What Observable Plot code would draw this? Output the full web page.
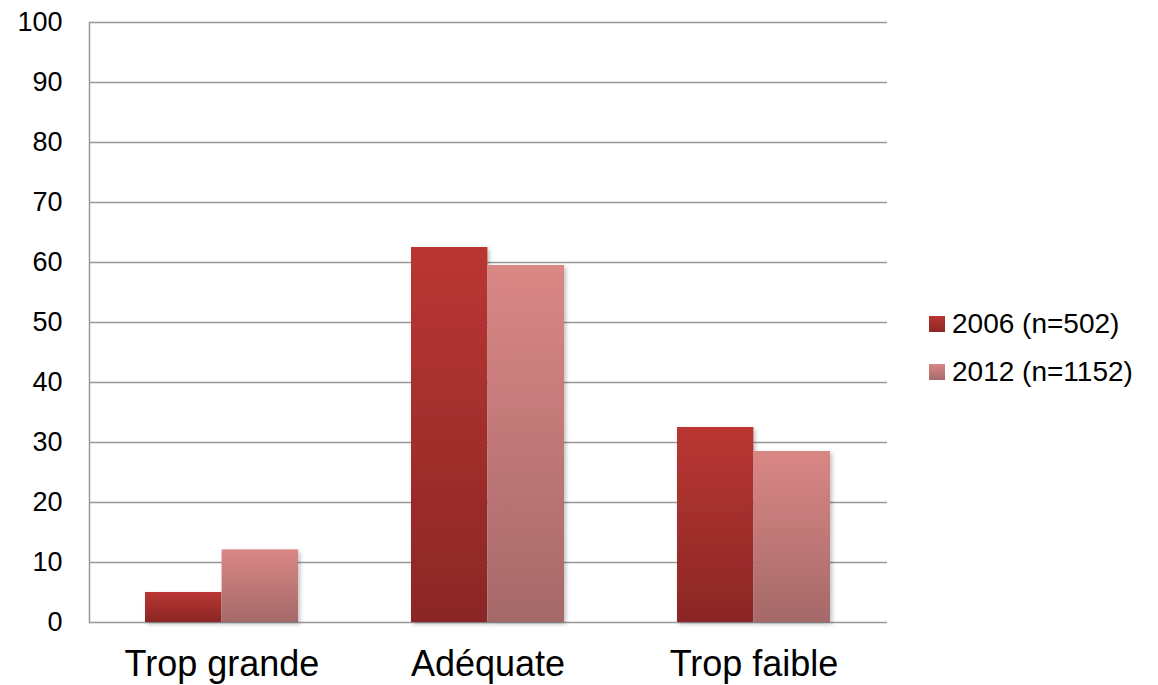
<!DOCTYPE html>
<html>
<head>
<meta charset="utf-8">
<script src="https://cdn.jsdelivr.net/npm/d3@7"></script>
<script src="https://cdn.jsdelivr.net/npm/@observablehq/plot@0.6"></script>
<style>
  body { margin: 0; background: #fff; font-family: "Liberation Sans", Arial, sans-serif; }
  #wrap { position: relative; width: 1158px; height: 685px; overflow: hidden; }
  #legend { position: absolute; left: 929px; top: 305px; font-size: 28px; color: #000; }
  .item { display: flex; align-items: center; height: 38px; margin-bottom: 10px; }
  .sw { width: 16px; height: 16px; margin-right: 7px; }
</style>
</head>
<body>
<div id="wrap"><div id="legend"></div></div>
<script>
const categories = ["Trop grande", "Adéquate", "Trop faible"];
const series = ["2006 (n=502)", "2012 (n=1152)"];
const values2006 = [5, 62.5, 32.5];
const values2012 = [12.1, 59.5, 28.5];
const yTicks = [0, 10, 20, 30, 40, 50, 60, 70, 80, 90, 100];

const rows2006 = categories.map((c, i) => ({cat: c, series: series[0], value: values2006[i]}));
const rows2012 = categories.map((c, i) => ({cat: c, series: series[1], value: values2012[i]}));

const W = 1158, H = 685, ML = 89, MR = 271, MT = 22, MB = 63;
const padInner = 0.424;
const step = (W - ML - MR) / categories.length;
const half = step * (1 - padInner) / 2;

const svg = Plot.plot({
  width: W,
  height: H,
  marginLeft: ML,
  marginRight: MR,
  marginTop: MT,
  marginBottom: MB,
  style: {fontFamily: "'Liberation Sans', Arial, sans-serif", color: "#000", background: "#fff", overflow: "visible"},
  x: {domain: categories, paddingInner: padInner, paddingOuter: padInner / 2, axis: null},
  y: {domain: [0, 100], axis: null},
  marks: [
    Plot.gridY(yTicks, {stroke: "#999", strokeOpacity: 1, strokeWidth: 1.5}),
    Plot.frame({anchor: "left", stroke: "#999", strokeWidth: 1.5}),
    Plot.barY(rows2006, {x: "cat", y: "value", fill: "url(#g2006)", insetRight: half}),
    Plot.barY(rows2012, {x: "cat", y: "value", fill: "url(#g2012)", insetLeft: half}),
    Plot.axisY(yTicks, {tickSize: 0, tickPadding: 27, fontSize: 27, label: null, tickFormat: d => String(d)}),
    Plot.axisX({tickSize: 0, tickPadding: 28, fontSize: 36, label: null})
  ]
});

const defs = d3.select(svg).insert("defs", ":first-child");
function grad(id, top, bottom) {
  const g = defs.append("linearGradient").attr("id", id).attr("x1", 0).attr("y1", 0).attr("x2", 0).attr("y2", 1);
  g.append("stop").attr("offset", "0%").attr("stop-color", top);
  g.append("stop").attr("offset", "100%").attr("stop-color", bottom);
}
grad("g2006", "#ba3633", "#8b2725");
grad("g2012", "#da8785", "#a56969");
const f = defs.append("filter").attr("id", "shadow").attr("x", "-10%").attr("y", "-10%").attr("width", "130%").attr("height", "130%");
f.append("feDropShadow").attr("dx", 2).attr("dy", 2).attr("stdDeviation", 2).attr("flood-color", "#000").attr("flood-opacity", 0.25);
d3.select(svg).selectAll("g[aria-label='bar']").attr("filter", "url(#shadow)");

document.getElementById("wrap").prepend(svg);

const legend = document.getElementById("legend");
const swatches = ["linear-gradient(#ba3633, #8b2725)", "linear-gradient(#da8785, #a56969)"];
series.forEach((s, i) => {
  const item = document.createElement("div");
  item.className = "item";
  const sw = document.createElement("div");
  sw.className = "sw";
  sw.style.background = swatches[i];
  const t = document.createElement("span");
  t.textContent = s;
  item.appendChild(sw);
  item.appendChild(t);
  legend.appendChild(item);
});
</script>
</body>
</html>
